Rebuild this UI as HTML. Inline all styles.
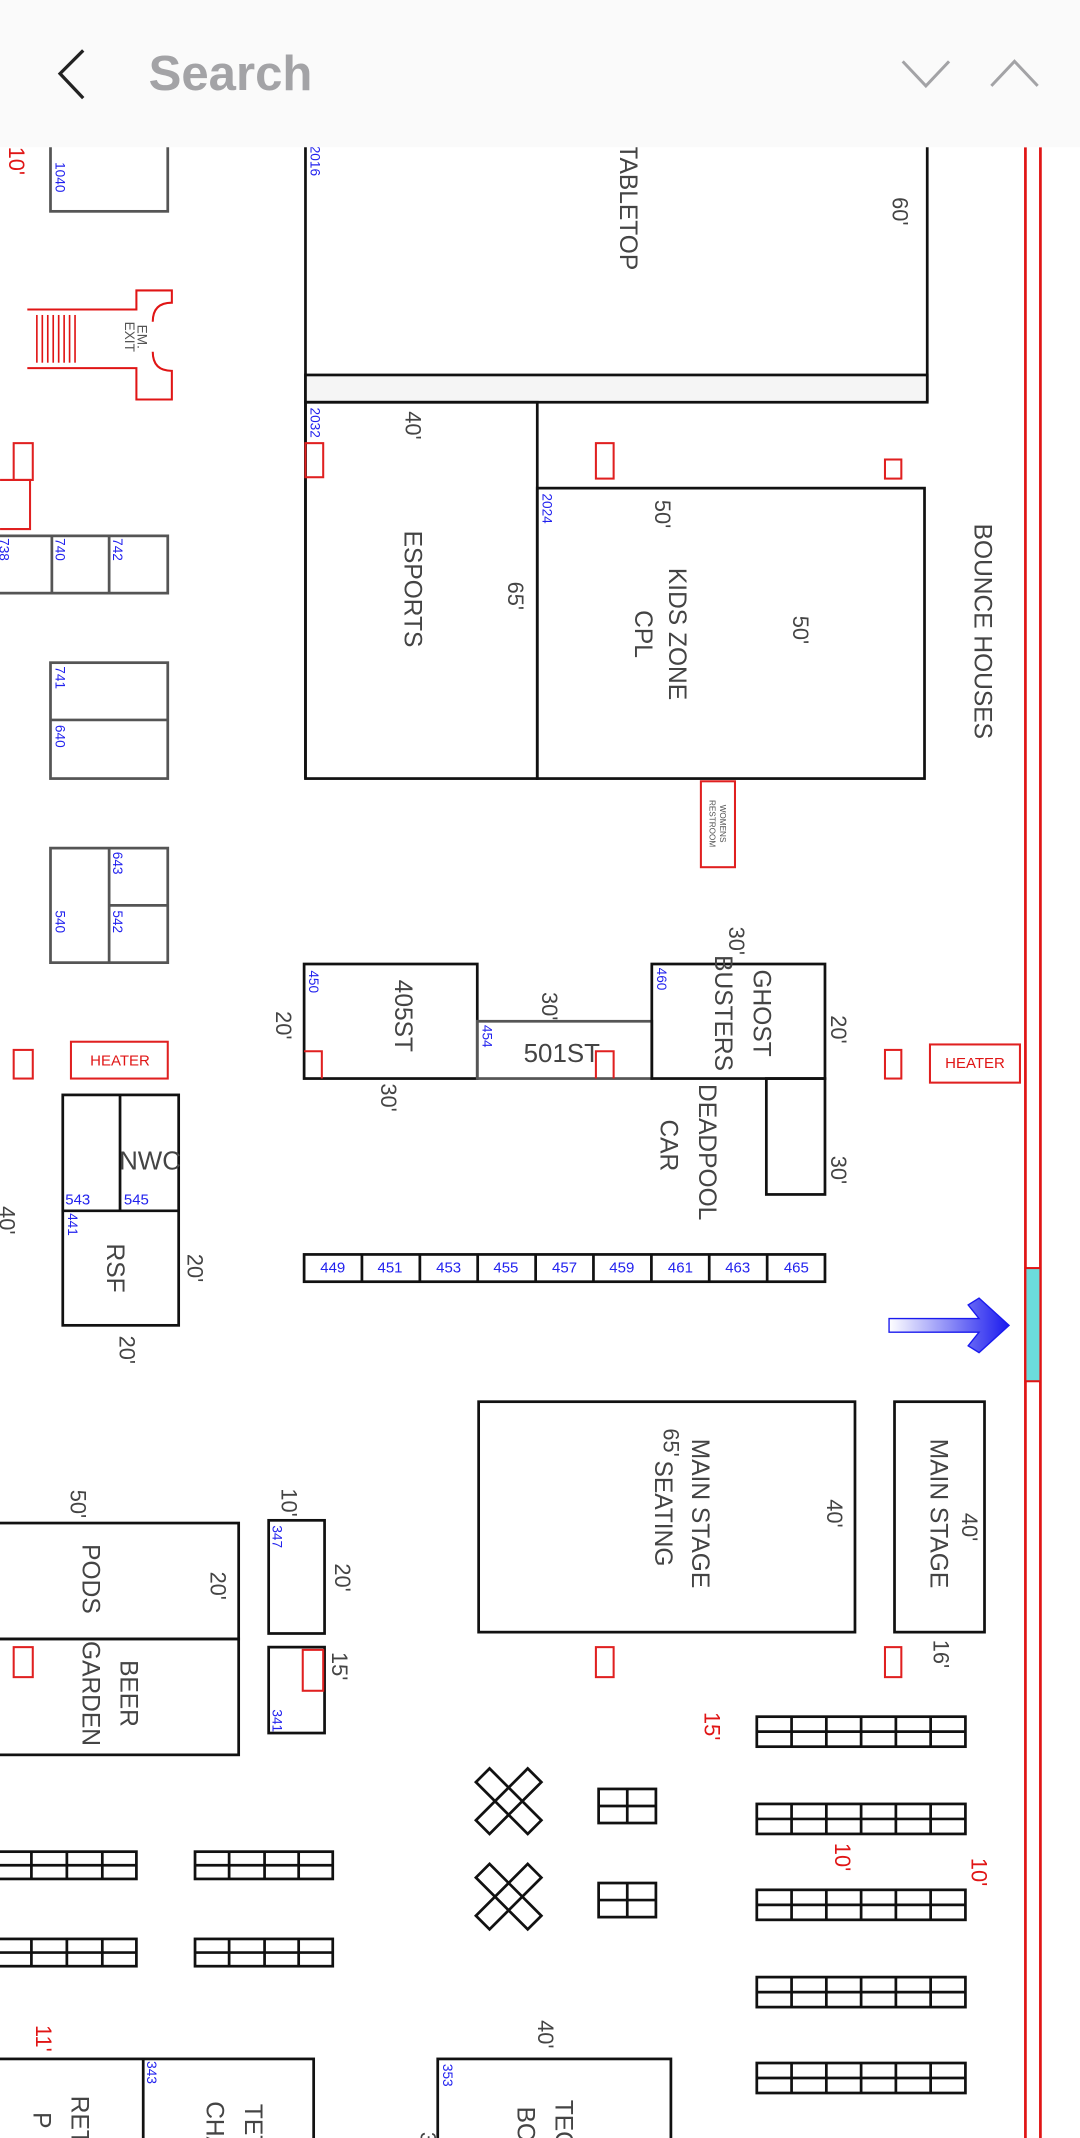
<!DOCTYPE html>
<html><head><meta charset="utf-8"><style>
html,body{margin:0;padding:0;background:#fff;width:1080px;height:2138px;overflow:hidden}
svg{display:block}
text{font-family:"Liberation Sans",sans-serif}
.d{fill:#444;font-size:16px}
.L{fill:#444;font-size:18px}
.b{fill:#2222ee;font-size:10px}
.r{fill:#e01515;font-size:16px}
.k{fill:none;stroke:#111;stroke-width:2}
.g{fill:none;stroke:#555;stroke-width:2}
.rr{fill:none;stroke:#e02020;stroke-width:1.5}
</style></head><body>
<svg width="1080" height="2138" viewBox="0 0 792 1568" xmlns="http://www.w3.org/2000/svg">
<defs><linearGradient id="ag" x1="0" x2="1"><stop offset="0" stop-color="#fff"/><stop offset="1" stop-color="#1a1aee"/></linearGradient></defs>
<g text-anchor="middle" dominant-baseline="central">
<line x1="752" y1="108" x2="752" y2="1568" stroke="#e01515" stroke-width="2"/>
<line x1="763" y1="108" x2="763" y2="1568" stroke="#e01515" stroke-width="2"/>
<rect x="752" y="930" width="11" height="83" fill="#6bdcdc" stroke="#e01515" stroke-width="1.5"/>
<line x1="224" y1="100" x2="224" y2="571" stroke="#111" stroke-width="2"/>
<line x1="680" y1="100" x2="680" y2="295" stroke="#111" stroke-width="2"/>
<rect x="224" y="275" width="456" height="20" fill="#f5f5f5" stroke="#111" stroke-width="2"/>
<text class="L" transform="rotate(90 460 152)" x="460" y="152">TABLETOP</text>
<text class="d" transform="rotate(90 660 155)" x="660" y="155">60'</text>
<text class="b" transform="rotate(90 231 118)" x="231" y="118">2016</text>
<rect class="k" x="224" y="295" width="170" height="276"/>
<text class="b" transform="rotate(90 231 310)" x="231" y="310">2032</text>
<rect class="rr" x="224" y="325" width="13" height="25"/>
<text class="d" transform="rotate(90 303 312)" x="303" y="312">40'</text>
<text class="L" transform="rotate(90 302 432)" x="302" y="432">ESPORTS</text>
<text class="d" transform="rotate(90 378 437)" x="378" y="437">65'</text>
<rect class="k" x="394" y="358" width="284" height="213"/>
<text class="b" transform="rotate(90 401 373)" x="401" y="373">2024</text>
<text class="d" transform="rotate(90 486 377)" x="486" y="377">50'</text>
<text class="L" transform="rotate(90 496 465)" x="496" y="465">KIDS ZONE</text>
<text class="L" transform="rotate(90 471 465)" x="471" y="465">CPL</text>
<text class="d" transform="rotate(90 587 462)" x="587" y="462">50'</text>
<rect class="rr" x="437" y="325" width="13" height="26"/>
<rect class="rr" x="649" y="337" width="12" height="14"/>
<text class="L" transform="rotate(90 720 463)" x="720" y="463">BOUNCE HOUSES</text>
<rect class="rr" x="514" y="573" width="25" height="63"/>
<text transform="rotate(90 530 604)" x="530" y="604" style="font-size:6px;fill:#555">WOMENS</text>
<text transform="rotate(90 522 604)" x="522" y="604" style="font-size:6px;fill:#555">RESTROOM</text>
<rect class="g" x="37" y="95" width="86" height="60"/>
<text class="b" transform="rotate(90 44 130)" x="44" y="130">1040</text>
<text class="r" transform="rotate(90 12 118)" x="12" y="118">10'</text>
<path d="M20 227 H100 V213 H126 V222 Q112 222 112 236 M112 258 Q112 272 126 272 V293 H100 V270 H20" fill="none" stroke="#e01515" stroke-width="1.5"/>
<g stroke="#e01515" stroke-width="1.2"><line x1="27" y1="231" x2="27" y2="266"/><line x1="31" y1="231" x2="31" y2="266"/><line x1="35" y1="231" x2="35" y2="266"/><line x1="39" y1="231" x2="39" y2="266"/><line x1="43" y1="231" x2="43" y2="266"/><line x1="47" y1="231" x2="47" y2="266"/><line x1="51" y1="231" x2="51" y2="266"/><line x1="55" y1="231" x2="55" y2="266"/></g>
<text transform="rotate(90 104 247)" x="104" y="247" style="font-size:10px;fill:#555">EM.</text>
<text transform="rotate(90 95 247)" x="95" y="247" style="font-size:10px;fill:#555">EXIT</text>
<rect class="rr" x="10" y="325" width="14" height="27"/>
<path d="M0 352 H22 V388 H0" class="rr"/>
<rect class="g" x="-5" y="393" width="128" height="42"/>
<line x1="38" y1="393" x2="38" y2="435" stroke="#555" stroke-width="2"/>
<line x1="80" y1="393" x2="80" y2="435" stroke="#555" stroke-width="2"/>
<text class="b" transform="rotate(90 3 403)" x="3" y="403">738</text>
<text class="b" transform="rotate(90 44 403)" x="44" y="403">740</text>
<text class="b" transform="rotate(90 86 403)" x="86" y="403">742</text>
<rect class="g" x="37" y="486" width="86" height="85"/>
<line x1="37" y1="528" x2="123" y2="528" stroke="#555" stroke-width="2"/>
<text class="b" transform="rotate(90 44 497)" x="44" y="497">741</text>
<text class="b" transform="rotate(90 44 540)" x="44" y="540">640</text>
<rect class="g" x="37" y="622" width="86" height="84"/>
<line x1="80" y1="622" x2="80" y2="706" stroke="#555" stroke-width="2"/>
<line x1="80" y1="664" x2="123" y2="664" stroke="#555" stroke-width="2"/>
<text class="b" transform="rotate(90 44 676)" x="44" y="676">540</text>
<text class="b" transform="rotate(90 86 633)" x="86" y="633">643</text>
<text class="b" transform="rotate(90 86 676)" x="86" y="676">542</text>
<rect class="rr" x="10" y="770" width="14" height="21"/>
<rect class="rr" x="52" y="764" width="71" height="27"/>
<text x="88" y="778" style="font-size:11px;fill:#e01515">HEATER</text>
<rect class="k" x="46" y="803" width="85" height="169"/>
<line x1="46" y1="888" x2="131" y2="888" stroke="#111" stroke-width="2"/>
<line x1="88" y1="803" x2="88" y2="888" stroke="#111" stroke-width="2"/>
<text x="110" y="852" style="font-size:19px;fill:#444">NWC</text>
<text class="b" x="57" y="880" style="font-size:11px">543</text>
<text class="b" x="100" y="880" style="font-size:11px">545</text>
<text class="b" transform="rotate(90 53 898)" x="53" y="898">441</text>
<text class="L" transform="rotate(90 84 930)" x="84" y="930">RSF</text>
<text class="d" transform="rotate(90 143 930)" x="143" y="930">20'</text>
<text class="d" transform="rotate(90 93 990)" x="93" y="990">20'</text>
<text class="d" transform="rotate(90 5 895)" x="5" y="895">40'</text>
<rect class="k" x="223" y="707" width="127" height="84"/>
<text class="b" transform="rotate(90 230 720)" x="230" y="720">450</text>
<path d="M223 771 H236 V791" class="rr"/>
<text class="L" transform="rotate(90 295 745)" x="295" y="745">405ST</text>
<text class="d" transform="rotate(90 208 752)" x="208" y="752">20'</text>
<text class="d" transform="rotate(90 285 805)" x="285" y="805">30'</text>
<rect class="g" x="350" y="749" width="128" height="42"/>
<text class="b" transform="rotate(90 357 760)" x="357" y="760">454</text>
<text x="412" y="773" style="font-size:19px;fill:#444">501ST</text>
<path d="M437 791 V771 H450 V791" class="rr"/>
<text class="d" transform="rotate(90 403 738)" x="403" y="738">30'</text>
<rect class="k" x="478" y="707" width="127" height="84"/>
<text class="b" transform="rotate(90 485 718)" x="485" y="718">460</text>
<text class="L" transform="rotate(90 558 743)" x="558" y="743">GHOST</text>
<text class="L" transform="rotate(90 530 743)" x="530" y="743">BUSTERS</text>
<text class="d" transform="rotate(90 540 690)" x="540" y="690">30'</text>
<text class="d" transform="rotate(90 615 755)" x="615" y="755">20'</text>
<rect class="k" x="562" y="791" width="43" height="85"/>
<text class="L" transform="rotate(90 518 845)" x="518" y="845">DEADPOOL</text>
<text class="L" transform="rotate(90 490 840)" x="490" y="840">CAR</text>
<text class="d" transform="rotate(90 615 858)" x="615" y="858">30'</text>
<rect class="rr" x="649" y="770" width="12" height="21"/>
<rect class="rr" x="682" y="766" width="66" height="28"/>
<text x="715" y="780" style="font-size:11px;fill:#e01515">HEATER</text>
<rect class="k" x="223" y="920" width="382" height="20"/>
<g stroke="#111" stroke-width="2"><line x1="265.4" y1="920" x2="265.4" y2="940"/><line x1="307.9" y1="920" x2="307.9" y2="940"/><line x1="350.3" y1="920" x2="350.3" y2="940"/><line x1="392.8" y1="920" x2="392.8" y2="940"/><line x1="435.2" y1="920" x2="435.2" y2="940"/><line x1="477.7" y1="920" x2="477.7" y2="940"/><line x1="520.1" y1="920" x2="520.1" y2="940"/><line x1="562.6" y1="920" x2="562.6" y2="940"/></g>
<g class="b" style="font-size:11px"><text x="244" y="930">449</text><text x="286" y="930">451</text><text x="329" y="930">453</text><text x="371" y="930">455</text><text x="414" y="930">457</text><text x="456" y="930">459</text><text x="499" y="930">461</text><text x="541" y="930">463</text><text x="584" y="930">465</text></g>
<path d="M652 967 H718 L710 957 L718 952 L740 972 L718 992 L710 987 L718 977 H652 Z" fill="url(#ag)" stroke="#1a1aee" stroke-width="1"/>
<rect class="k" x="351" y="1028" width="276" height="169"/>
<text class="d" transform="rotate(90 492 1058)" x="492" y="1058">65'</text>
<text class="L" transform="rotate(90 513 1110)" x="513" y="1110">MAIN STAGE</text>
<text class="L" transform="rotate(90 486 1110)" x="486" y="1110">SEATING</text>
<text class="d" transform="rotate(90 612 1110)" x="612" y="1110">40'</text>
<rect class="k" x="656" y="1028" width="66" height="169"/>
<text class="d" transform="rotate(90 711 1120)" x="711" y="1120">40'</text>
<text class="L" transform="rotate(90 688 1110)" x="688" y="1110">MAIN STAGE</text>
<text class="d" transform="rotate(90 690 1213)" x="690" y="1213">16'</text>
<rect class="rr" x="437" y="1208" width="13" height="22"/>
<rect class="rr" x="649" y="1208" width="12" height="22"/>
<text class="r" transform="rotate(90 522 1266)" x="522" y="1266">15'</text>
<text class="r" transform="rotate(90 618 1362)" x="618" y="1362">10'</text>
<text class="r" transform="rotate(90 718 1373)" x="718" y="1373">10'</text>
<g id="bl" fill="none" stroke="#111" stroke-width="2">
<rect x="555" y="1259" width="153" height="22"/><line x1="555" y1="1270" x2="708" y2="1270"/>
<line x1="580.5" y1="1259" x2="580.5" y2="1281"/><line x1="606" y1="1259" x2="606" y2="1281"/><line x1="631.5" y1="1259" x2="631.5" y2="1281"/><line x1="657" y1="1259" x2="657" y2="1281"/><line x1="682.5" y1="1259" x2="682.5" y2="1281"/>
</g>
<use href="#bl" y="64"/><use href="#bl" y="127"/><use href="#bl" y="191"/><use href="#bl" y="254"/>
<rect class="k" x="-5" y="1117" width="180" height="85"/>
<rect class="k" x="-5" y="1202" width="180" height="85"/>
<text class="d" transform="rotate(90 57 1103)" x="57" y="1103">50'</text>
<text class="L" transform="rotate(90 66 1158)" x="66" y="1158">PODS</text>
<text class="d" transform="rotate(90 160 1163)" x="160" y="1163">20'</text>
<text class="L" transform="rotate(90 94 1242)" x="94" y="1242">BEER</text>
<text class="L" transform="rotate(90 66 1242)" x="66" y="1242">GARDEN</text>
<rect class="rr" x="10" y="1208" width="14" height="22"/>
<rect class="k" x="197" y="1115" width="41" height="83"/>
<text class="b" transform="rotate(90 203 1127)" x="203" y="1127">347</text>
<text class="d" transform="rotate(90 212 1102)" x="212" y="1102">10'</text>
<text class="d" transform="rotate(90 251 1157)" x="251" y="1157">20'</text>
<rect class="k" x="197" y="1208" width="41" height="63"/>
<rect class="rr" x="222" y="1210" width="15" height="30"/>
<text class="b" transform="rotate(90 203 1262)" x="203" y="1262">341</text>
<text class="d" transform="rotate(90 249 1222)" x="249" y="1222">15'</text>
<g id="xx" fill="none" stroke="#111" stroke-width="2" transform="translate(373 1321)">
<polygon points="-24,-14 -14,-24 24,14 14,24"/><polygon points="14,-24 24,-14 -14,24 -24,14"/>
</g>
<use href="#xx" y="70"/>
<g fill="none" stroke="#111" stroke-width="2">
<rect x="439" y="1312" width="42" height="25"/><line x1="460" y1="1312" x2="460" y2="1337"/><line x1="439" y1="1324.5" x2="481" y2="1324.5"/>
<rect x="439" y="1381" width="42" height="25"/><line x1="460" y1="1381" x2="460" y2="1406"/><line x1="439" y1="1393.5" x2="481" y2="1393.5"/>
</g>
<g id="lb" fill="none" stroke="#111" stroke-width="2">
<rect x="-10" y="1358" width="110" height="20"/><line x1="-10" y1="1368" x2="100" y2="1368"/>
<line x1="23" y1="1358" x2="23" y2="1378"/><line x1="49" y1="1358" x2="49" y2="1378"/><line x1="75" y1="1358" x2="75" y2="1378"/>
<rect x="143" y="1358" width="101" height="20"/><line x1="143" y1="1368" x2="244" y2="1368"/>
<line x1="168" y1="1358" x2="168" y2="1378"/><line x1="194" y1="1358" x2="194" y2="1378"/><line x1="219" y1="1358" x2="219" y2="1378"/>
</g>
<use href="#lb" y="64"/>
<text class="r" transform="rotate(90 32 1495)" x="32" y="1495">11'</text>
<rect class="k" x="-5" y="1510" width="235" height="70"/>
<line x1="105" y1="1510" x2="105" y2="1568" stroke="#111" stroke-width="2"/>
<text class="b" transform="rotate(90 111 1520)" x="111" y="1520">343</text>
<text class="L" transform="rotate(90 58 1555)" x="58" y="1555">RET</text>
<text class="L" transform="rotate(90 30 1555)" x="30" y="1555">P</text>
<text class="L" transform="rotate(90 185 1560)" x="185" y="1560">TET</text>
<text class="L" transform="rotate(90 157 1560)" x="157" y="1560">CHA</text>
<rect class="k" x="321" y="1510" width="171" height="70"/>
<text class="b" transform="rotate(90 328 1522)" x="328" y="1522">353</text>
<text class="L" transform="rotate(90 413 1558)" x="413" y="1558">TEC</text>
<text class="L" transform="rotate(90 385 1558)" x="385" y="1558">BO</text>
<text class="d" transform="rotate(90 400 1492)" x="400" y="1492">40'</text>
<text class="d" transform="rotate(90 314 1568)" x="314" y="1568">3</text>
</g>
<rect x="0" y="0" width="792" height="108" fill="#fafafa"/>
<polyline points="61,37 44,54 61,72" fill="none" stroke="#222" stroke-width="2.4"/>
<text x="109" y="66" style="font-size:36px;font-weight:bold;fill:#a3a3a6">Search</text>
<polyline points="662,45 679,63 696,45" fill="none" stroke="#a3a3a6" stroke-width="2.2"/>
<polyline points="727,63 744,45 761,63" fill="none" stroke="#a3a3a6" stroke-width="2.2"/>
</svg>
</body></html>
